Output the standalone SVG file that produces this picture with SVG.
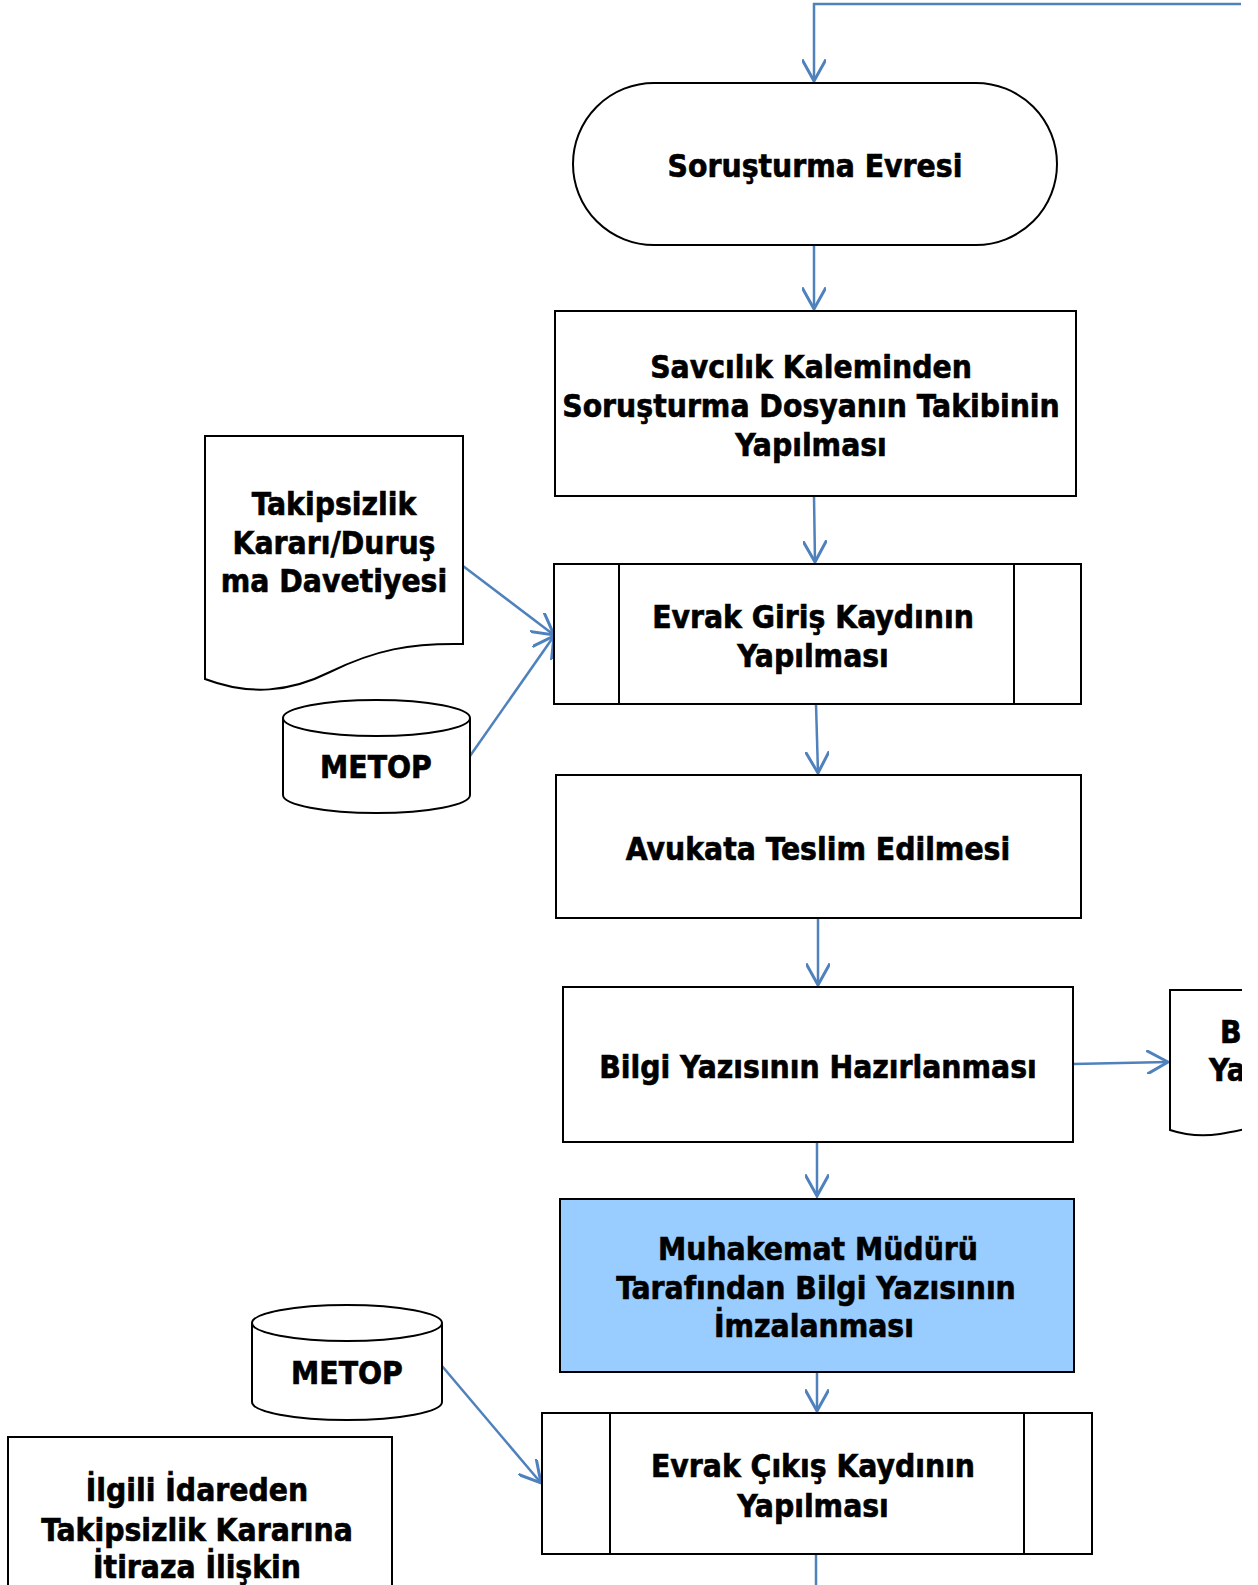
<svg xmlns="http://www.w3.org/2000/svg" width="1258" height="1585" viewBox="0 0 1258 1585">
<style>
.n{fill:#fff;stroke:#000;stroke-width:2}
.b{fill:#99CCFF;stroke:#000;stroke-width:2}
.c{fill:none;stroke:#4F81BD;stroke-width:2.5}
text{font-family:'DejaVu Sans Condensed','DejaVu Sans',sans-serif;font-stretch:condensed;font-weight:bold;font-size:31.5px;fill:#000;stroke:#000;stroke-width:0.6;text-anchor:middle}
</style>
<defs>
<marker id="ah" markerUnits="userSpaceOnUse" markerWidth="24" markerHeight="24" refX="18" refY="10" orient="auto" viewBox="0 0 20 20">
<path d="M0,0 L18,10 L0,20" fill="none" stroke="#4F81BD" stroke-width="2.5"/>
</marker>
<clipPath id="clip"><rect x="0" y="0" width="1242" height="1585"/></clipPath>
</defs>
<g clip-path="url(#clip)">
<g id="connectors">
<path class="c" d="M1241,4 L814,4 L814,81" marker-end="url(#ah)"/>
<path class="c" d="M814,245 L814,309" marker-end="url(#ah)"/>
<path class="c" d="M814,496 L815,562" marker-end="url(#ah)"/>
<path class="c" d="M463,566 L554,635" marker-end="url(#ah)"/>
<path class="c" d="M470,756 L554,636" marker-end="url(#ah)"/>
<path class="c" d="M816,704 L818,773" marker-end="url(#ah)"/>
<path class="c" d="M818,918 L818,985" marker-end="url(#ah)"/>
<path class="c" d="M1073,1064 L1168,1062" marker-end="url(#ah)"/>
<path class="c" d="M817,1142 L817,1196" marker-end="url(#ah)"/>
<path class="c" d="M817,1372 L817,1411" marker-end="url(#ah)"/>
<path class="c" d="M442,1366 L541,1483" marker-end="url(#ah)"/>
<path class="c" d="M816,1554 L816,1585"/>
</g>
<g id="n-sorusturma">
<rect class="n" x="573" y="83" width="484" height="162" rx="81" ry="81"/>
<text x="815" y="177">Soruşturma Evresi</text>
</g>
<g id="n-savcilik">
<rect class="n" x="555" y="311" width="521" height="185"/>
<text x="811" y="378">Savcılık Kaleminden</text>
<text x="811" y="417">Soruşturma Dosyanın Takibinin</text>
<text x="811" y="456">Yapılması</text>
</g>
<g id="n-evrak-giris">
<rect class="n" x="554" y="564" width="527" height="140"/>
<line class="n" x1="619" y1="564" x2="619" y2="704"/>
<line class="n" x1="1014" y1="564" x2="1014" y2="704"/>
<text x="813" y="628">Evrak Giriş Kaydının</text>
<text x="813" y="667">Yapılması</text>
</g>
<g id="n-takipsizlik-belge">
<path class="n" d="M205,436 L463,436 L463,644 C410,643 375,650 330,672 C290,692 250,696 205,679 Z"/>
<text x="334" y="515">Takipsizlik</text>
<text x="334" y="554">Kararı/Duruş</text>
<text x="334" y="592">ma Davetiyesi</text>
</g>
<g id="n-metop1">
<path class="n" d="M283,718 A93.5,18 0 0 1 470,718 L470,795 A93.5,18 0 0 1 283,795 Z"/>
<path class="n" d="M283,718 A93.5,18 0 0 0 470,718" fill="none"/>
<text x="376" y="778">METOP</text>
</g>
<g id="n-avukata">
<rect class="n" x="556" y="775" width="525" height="143"/>
<text x="818" y="860">Avukata Teslim Edilmesi</text>
</g>
<g id="n-bilgi">
<rect class="n" x="563" y="987" width="510" height="155"/>
<text x="818" y="1078">Bilgi Yazısının Hazırlanması</text>
</g>
<g id="n-bilgi-belge">
<path class="n" d="M1170,990 L1300,990 L1300,1120 C1270,1122 1245,1130 1220,1134 C1200,1137 1185,1135 1170,1130 Z"/>
<text x="1220" y="1043" style="text-anchor:start">B</text>
<text x="1209" y="1081" style="text-anchor:start">Ya</text>
</g>
<g id="n-muhakemat">
<rect class="b" x="560" y="1199" width="514" height="173"/>
<text x="818" y="1260">Muhakemat Müdürü</text>
<text x="816" y="1299">Tarafından Bilgi Yazısının</text>
<text x="814" y="1337">İmzalanması</text>
</g>
<g id="n-metop2">
<path class="n" d="M252,1323 A95,18 0 0 1 442,1323 L442,1402 A95,18 0 0 1 252,1402 Z"/>
<path class="n" d="M252,1323 A95,18 0 0 0 442,1323" fill="none"/>
<text x="347" y="1384">METOP</text>
</g>
<g id="n-evrak-cikis">
<rect class="n" x="542" y="1413" width="550" height="141"/>
<line class="n" x1="610" y1="1413" x2="610" y2="1554"/>
<line class="n" x1="1024" y1="1413" x2="1024" y2="1554"/>
<text x="813" y="1477">Evrak Çıkış Kaydının</text>
<text x="813" y="1517">Yapılması</text>
</g>
<g id="n-ilgili">
<rect class="n" x="8" y="1437" width="384" height="170"/>
<text x="197" y="1501">İlgili İdareden</text>
<text x="197" y="1541">Takipsizlik Kararına</text>
<text x="197" y="1578">İtiraza İlişkin</text>
</g>
</g>
</svg>
